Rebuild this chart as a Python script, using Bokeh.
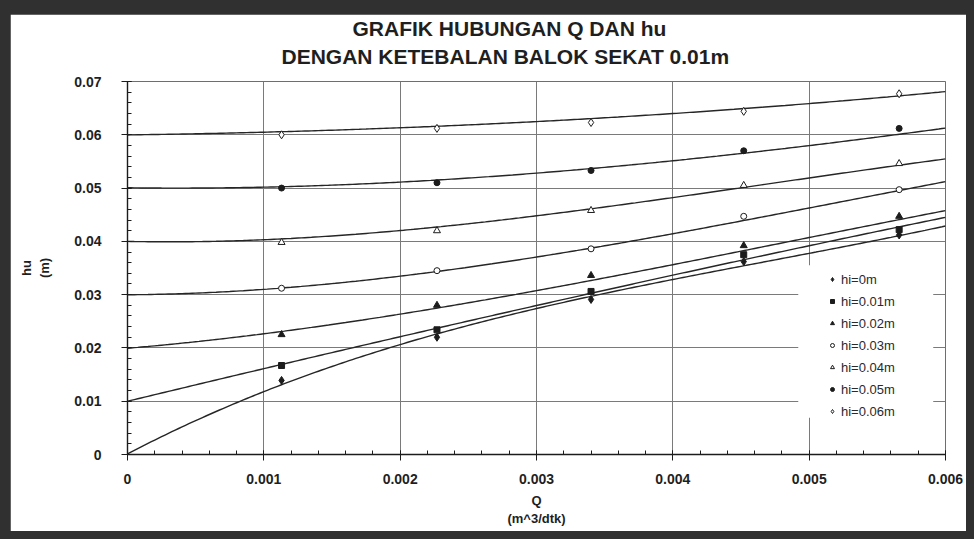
import numpy as np
from bokeh.plotting import figure
from bokeh.models import (Range1d, FixedTicker, Legend, LegendItem, BoxAnnotation,
                          Title, Spacer, CustomJSTickFormatter)
from bokeh.layouts import row, column
from bokeh.embed import file_html
from bokeh.resources import INLINE

# ---------------- data ----------------
TITLE_1 = "GRAFIK HUBUNGAN Q DAN hu"
TITLE_2 = "DENGAN KETEBALAN BALOK SEKAT 0.01m"
X_LABEL = "Q\n(m^3/dtk)"
Y_LABEL = "hu\n(m)"

x_ticks = [0.0, 0.001, 0.002, 0.003, 0.004, 0.005, 0.006]
x_tick_labels = ["0", "0.001", "0.002", "0.003", "0.004", "0.005", "0.006"]
y_ticks = [0.0, 0.01, 0.02, 0.03, 0.04, 0.05, 0.06, 0.07]
y_tick_labels = ["0", "0.01", "0.02", "0.03", "0.04", "0.05", "0.06", "0.07"]

# measured points
Q = [0.00113, 0.00227, 0.0034, 0.00452, 0.00566]
hi = [0.0, 0.01, 0.02, 0.03, 0.04, 0.05, 0.06]
series_names = ["hi=0m", "hi=0.01m", "hi=0.02m", "hi=0.03m", "hi=0.04m", "hi=0.05m", "hi=0.06m"]

hu_hi0 = [0.0139, 0.0220, 0.0291, 0.0362, 0.0412]
hu_hi1 = [0.0167, 0.0234, 0.0306, 0.0375, 0.0422]
hu_hi2 = [0.0225, 0.0280, 0.0336, 0.0392, 0.0447]
hu_hi3 = [0.0312, 0.0345, 0.0386, 0.0447, 0.0497]
hu_hi4 = [0.0398, 0.0420, 0.0458, 0.0505, 0.0546]
hu_hi5 = [0.0500, 0.0510, 0.0533, 0.0570, 0.0612]
hu_hi6 = [0.0600, 0.0612, 0.0623, 0.0644, 0.0677]
hu_all = [hu_hi0, hu_hi1, hu_hi2, hu_hi3, hu_hi4, hu_hi5, hu_hi6]

# trend curves at Q = 0, 0.001, ..., 0.006
Q_trend = [0.0, 0.001, 0.002, 0.003, 0.004, 0.005, 0.006]
trend_hi0 = [0.0000, 0.0121, 0.0205, 0.0272, 0.0329, 0.0379, 0.0428]
trend_hi1 = [0.0100, 0.0161, 0.0221, 0.0280, 0.0336, 0.0392, 0.0445]
trend_hi2 = [0.0200, 0.0225, 0.0264, 0.0309, 0.0355, 0.0407, 0.0458]
trend_hi3 = [0.0300, 0.0309, 0.0336, 0.0370, 0.0414, 0.0463, 0.0512]
trend_hi4 = [0.0400, 0.0403, 0.0420, 0.0448, 0.0483, 0.0518, 0.0555]
trend_hi5 = [0.0500, 0.0503, 0.0511, 0.0527, 0.0551, 0.0581, 0.0612]
trend_hi6 = [0.0600, 0.0604, 0.0614, 0.0625, 0.0639, 0.0659, 0.0681]
trend_all = [trend_hi0, trend_hi1, trend_hi2, trend_hi3, trend_hi4, trend_hi5, trend_hi6]

# ---------------- styles ----------------
INK = "#1c1c1c"
markers = [
    dict(marker="diamond", size=8, fill_color=INK),
    dict(marker="square", size=6, fill_color=INK),
    dict(marker="triangle", size=7, fill_color=INK),
    dict(marker="circle", size=6, fill_color="white"),
    dict(marker="triangle", size=7, fill_color="white"),
    dict(marker="circle", size=6, fill_color=INK),
    dict(marker="diamond", size=8, fill_color="white"),
]

p = figure(width=956, height=517, output_backend="svg", toolbar_location=None, title=None,
           x_range=Range1d(0, 0.006), y_range=Range1d(0, 0.07),
           min_border_left=117, min_border_right=21, min_border_top=67, min_border_bottom=77,
           background_fill_color="white", border_fill_color="white")
p.outline_line_color = "#6e6e6e"
p.outline_line_width = 1

# Titles (later added sits further from the plot)
for txt, off, so in [(TITLE_2, 154, 27), (TITLE_1, 225, -21)]:
    p.add_layout(Title(text=txt, align="left", offset=off, text_font_size="21px",
                       text_font_style="bold", text_font="Liberation Sans",
                       text_color="#1f1f1f", standoff=so), "above")

def fmt(tv, tl):
    return CustomJSTickFormatter(args=dict(tv=tv, tl=tl), code="""
        for (let i = 0; i < tv.length; i++) { if (Math.abs(tv[i] - tick) < 1e-9) return tl[i]; }
        return '';""")

x_minor = [round(v, 5) for v in np.arange(0, 0.0060001, 0.0002)]
y_minor = [round(v, 4) for v in np.arange(0, 0.070001, 0.002)]
xt = FixedTicker(ticks=x_ticks, minor_ticks=x_minor)
yt = FixedTicker(ticks=y_ticks, minor_ticks=y_minor)

for ax, tk, tv, tl in [(p.xaxis[0], xt, x_ticks, x_tick_labels), (p.yaxis[0], yt, y_ticks, y_tick_labels)]:
    ax.ticker = tk
    ax.formatter = fmt(tv, tl)
    ax.axis_line_color = INK
    ax.axis_line_width = 1.4
    ax.major_tick_line_color = INK
    ax.minor_tick_line_color = INK
    ax.major_tick_in = 4
    ax.major_tick_out = 6
    ax.minor_tick_in = 4
    ax.minor_tick_out = 0
    ax.major_label_text_font = "Liberation Sans"
    ax.major_label_text_font_style = "bold"
    ax.major_label_text_font_size = "14px"
    ax.major_label_text_color = "#1f1f1f"
    ax.axis_label_text_font = "Liberation Sans"
    ax.axis_label_text_font_style = "bold"
    ax.axis_label_text_font_size = "13px"
    ax.axis_label_text_color = "#1f1f1f"

p.xaxis.axis_label = X_LABEL
p.yaxis.axis_label = Y_LABEL
p.xaxis.major_label_standoff = 13
p.yaxis.major_label_standoff = 20
p.xaxis.axis_label_standoff = 6
p.yaxis.axis_label_standoff = 19

p.xgrid.ticker = xt
p.ygrid.ticker = yt
p.xgrid.grid_line_color = "#7a7a7a"
p.ygrid.grid_line_color = "#7a7a7a"
p.xgrid.grid_line_width = 1
p.ygrid.grid_line_width = 1

# legend background box (white, covers grid like the original legend frame)
p.add_layout(BoxAnnotation(left=0.00492, right=0.00591, bottom=0.0069, top=0.0355,
                           fill_color="white", fill_alpha=1, line_color=None, level="underlay"))

# smooth trend curves through the read trend values, then the measured points
xs = np.linspace(0, 0.006, 241)
items = []
for tr, hu, mk, name in zip(trend_all, hu_all, markers, series_names):
    coef = np.polyfit(np.array(Q_trend), np.array(tr), 3)
    ys = np.polyval(coef, xs)
    p.line(xs, ys, line_color="#262626", line_width=1.4)
    r = p.scatter(Q, hu, marker=mk["marker"], size=mk["size"], fill_color=mk["fill_color"],
                  line_color=INK, line_width=1)
    items.append(LegendItem(label=name, renderers=[r]))

legend = Legend(items=items, location=(700, 34), background_fill_alpha=0, border_line_color=None,
                padding=2, spacing=4, glyph_width=10, glyph_height=18, label_height=18,
                label_standoff=4, label_text_font="Liberation Sans", label_text_font_size="13px",
                label_text_color="#2a2a2a", margin=0)
p.add_layout(legend)

DARK = "#303030"
layout = row(
    Spacer(width=10, height=539, styles={"background-color": DARK}),
    column(Spacer(width=956, height=14, styles={"background-color": DARK}), p,
           Spacer(width=956, height=8, styles={"background-color": DARK})),
    Spacer(width=8, height=539, styles={"background-color": DARK}),
    styles={"background-color": DARK},
)

open("out.html", "w").write(file_html(layout, INLINE))
